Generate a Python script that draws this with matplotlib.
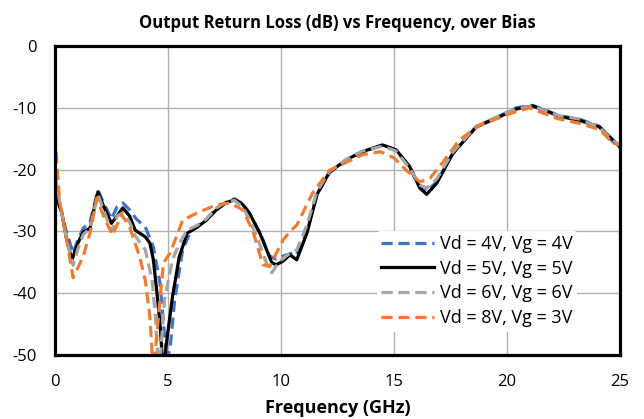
import matplotlib.pyplot as plt

# frequency (GHz) / return loss (dB)
f_4v = [0, 0.3, 0.5, 0.8, 1.0, 1.25, 1.55, 1.9, 2.1, 2.5, 2.75, 3.0, 3.3, 3.6, 4.0, 4.35, 4.65, 4.85,
        4.95, 5.1, 5.3, 5.65, 6.0, 6.3, 6.7, 7.15, 7.6, 7.95, 8.3, 8.6, 9.1, 9.5, 9.8, 10.1, 10.5,
        10.7, 11.15, 11.6, 12.15, 12.9, 13.6, 14.5, 15.1, 15.7, 16.15, 16.45, 16.9, 17.6, 18.65,
        19.7, 20.4, 21.15, 21.8, 22.35, 23.2, 24.1, 24.7, 25]
rl_4v = [-23.3, -27, -30, -33.5, -31.5, -29.5, -28.5, -23.3, -25, -28, -26, -25.4, -26.5, -28,
         -29.3, -32.5, -38.4, -47, -51, -48.7, -41, -33, -30, -29.3, -28, -26.3, -25.2, -24.7,
         -25.5, -27, -30.5, -34, -34.5, -34, -33.5, -33.8, -30, -24, -20.5, -18.5, -17.2, -16.0,
         -16.9, -19.7, -22.8, -23.5, -22, -17.5, -13.0, -11.3, -10.0, -9.6, -10.5, -11.3, -11.8,
         -13, -15.5, -16.5]

f_5v = [0, 0.3, 0.5, 0.75, 1.0, 1.25, 1.55, 1.75, 1.9, 2.1, 2.5, 2.75, 3.0, 3.3, 3.55, 4.0, 4.2,
        4.35, 4.5, 4.65, 4.75, 4.85, 4.95, 5.2, 5.5, 5.85, 6.3, 6.7, 7.15, 7.6, 7.95, 8.3, 8.6,
        9.07, 9.6, 9.8, 10.1, 10.4, 10.7, 11.15, 11.6, 12.15, 12.9, 13.6, 14.5, 15.1, 15.7,
        16.15, 16.45, 16.9, 17.6, 18.65, 19.7, 20.4, 21.15, 21.8, 22.35, 23.2, 24.1, 24.7, 25]
rl_5v = [-23.8, -27, -31, -34.6, -32, -30.1, -29.5, -26, -23.6, -25.5, -28.7, -27.5, -26.2, -27.5,
         -29.8, -30.9, -31.9, -34.5, -39.5, -45, -50.5, -51, -47.6, -40.6, -34.1, -30.3, -29.3,
         -28.2, -26.5, -25.3, -24.9, -25.6, -27, -30.3, -35.1, -35.4, -34.8, -33.8, -34.6, -30.3,
         -24, -20.4, -18.4, -17.1, -16.0, -16.8, -19.5, -23, -24, -22.2, -17.4, -13.1, -11.4,
         -10.2, -9.7, -10.6, -11.4, -12, -13.1, -15.2, -16.3]

f_6v = [0, 0.3, 0.5, 0.8, 1.0, 1.25, 1.55, 1.9, 2.1, 2.5, 2.75, 3.0, 3.3, 3.6, 4.0, 4.3, 4.45,
        4.55, 4.65, 4.85, 5.2, 5.5, 5.85, 6.3, 6.7, 7.15, 7.6, 7.95, 8.3, 8.6, 9.0, 9.4, 9.6, 9.9,
        10.3, 10.7, 11.15, 11.6, 12.15, 12.9, 13.6, 14.5, 15.1, 15.7, 16.15, 16.45, 16.9, 17.6,
        18.65, 19.7, 20.4, 21.15, 21.8, 22.35, 23.2, 24.1, 24.7, 25]
rl_6v = [-21, -27, -31, -35.5, -33, -30.5, -29.5, -24, -26, -30, -27.5, -27, -28.5, -31, -33,
         -38, -44, -50.5, -51, -41, -34.6, -32, -29.8, -29, -28, -26.2, -25.2, -25, -26, -28,
         -31.5, -35.5, -36.7, -35, -33.8, -33, -29, -23.5, -20.3, -18.3, -17.0, -16.2, -17,
         -19.8, -22.5, -23, -21.5, -17.2, -13, -11.2, -10.2, -9.7, -10.6, -11.3, -11.8, -13.2,
         -15.3, -16]

f_8v = [0, 0.1, 0.2, 0.5, 0.8, 1.0, 1.25, 1.55, 1.85, 2.2, 2.55, 2.95, 3.3, 3.75, 4.0, 4.2, 4.3,
        4.4, 4.55, 4.8, 5.1, 5.65, 6.3, 7.15, 7.75, 8.3, 8.75, 9.2, 9.5, 9.8, 10.1, 10.4, 10.7,
        11.4, 12.15, 13.6, 14.4, 15.0, 15.55, 16.15, 16.6, 17.15, 17.9, 18.8, 20.25, 21.0, 22.2,
        23.2, 24.1, 24.7, 25]
rl_8v = [-14.4, -20, -25, -31, -37.5, -36, -34, -30.3, -24.6, -28, -30.6, -27.3, -29.3, -34.1,
         -38, -43.8, -49.7, -51, -45, -35.1, -33.5, -28.2, -27, -25.7, -25.4, -26.5, -29.8,
         -35.4, -35.7, -33.5, -31.4, -30, -29, -23.8, -20.1, -17.6, -17.1, -18.1, -20.1, -22,
         -21.4, -18.9, -15.2, -12.8, -10.8, -10, -11.7, -12.5, -13.5, -15.7, -16]

labels = ["Vd = 4V, Vg = 4V", "Vd = 5V, Vg = 5V", "Vd = 6V, Vg = 6V", "Vd = 8V, Vg = 3V"]

plt.rcParams['font.family'] = ['Open Sans', 'DejaVu Sans']
plt.rcParams['axes.unicode_minus'] = False

fig = plt.figure(figsize=(6.44, 4.19), dpi=100)
ax = fig.add_axes([0.0854, 0.153, 0.877, 0.737])

dash = (3.5, 1.8)
ax.plot(f_4v, rl_4v, color="#4472C4", lw=2.3, dashes=dash, label=labels[0])
ax.plot(f_5v, rl_5v, color="black", lw=2.3, label=labels[1])
ax.plot(f_6v, rl_6v, color="#A5A5A5", lw=2.3, dashes=dash, label=labels[2])
ax.plot(f_8v, rl_8v, color="#ED7D31", lw=2.3, dashes=dash, label=labels[3])

ax.set_xlim(0, 25)
ax.set_ylim(-50, 0)
ax.set_xticks([0, 5, 10, 15, 20, 25])
ax.set_yticks([0, -10, -20, -30, -40, -50])
ax.grid(True, color="#B0B0B0", lw=1)
ax.tick_params(length=0, labelsize=12)
ax.tick_params(axis="y", pad=13)
ax.tick_params(axis="x", pad=14)
for s in ax.spines.values():
    s.set_linewidth(2.3)

ax.set_title("Output Return Loss (dB) vs Frequency, over Bias", fontsize=12,
             fontweight="bold", pad=13)
ax.set_xlabel("Frequency (GHz)", fontsize=13, fontweight="bold", labelpad=6)

leg = ax.legend(loc="lower right", bbox_to_anchor=(0.941, 0.046), frameon=True, fontsize=13,
                handlelength=2.9, handletextpad=0.35, labelspacing=0.37, borderpad=0.25)
leg.get_frame().set_edgecolor("none")
leg.get_frame().set_facecolor("white")
leg.get_frame().set_alpha(1)

fig.savefig("out.png", dpi=100)
